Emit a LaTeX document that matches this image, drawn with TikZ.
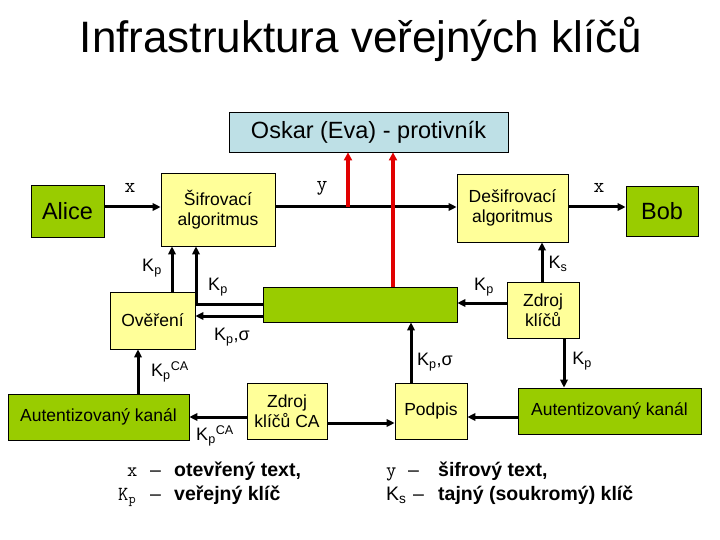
\documentclass[tikz,border=0pt]{standalone}
\usepackage{fontspec}
\setmainfont{Liberation Sans}
\usetikzlibrary{arrows.meta}
\definecolor{boxyellow}{RGB}{255,255,153}
\definecolor{boxgreen}{RGB}{153,204,0}
\definecolor{boxblue}{RGB}{190,224,230}
\definecolor{redline}{RGB}{225,0,0}
\begin{document}
\begin{tikzpicture}[x=1pt,y=-1pt,
  box/.style={draw=black, line width=0.8pt, inner sep=0pt, align=center, font=\fontsize{17.5}{20.5}\selectfont},
  ybox/.style={box, fill=boxyellow},
  gbox/.style={box, fill=boxgreen},
  bigtext/.style={font=\fontsize{23.5}{26}\selectfont},
  conn/.style={line width=3pt, -{Triangle[length=8pt,width=7.5pt]}},
  redc/.style={line width=3.6pt, draw=redline, -{Triangle[length=8pt,width=8pt]}, color=redline},
  lbl/.style={font=\fontsize{18}{20}\selectfont, inner sep=0pt},
  monolbl/.style={font=\ttfamily\fontsize{21}{22}\selectfont, inner sep=0pt},
  legbold/.style={font=\bfseries\fontsize{19.5}{22}\selectfont, inner sep=0pt, anchor=base west},
  legmono/.style={font=\ttfamily\fontsize{20}{22}\selectfont, inner sep=0pt, anchor=base west},
  legplain/.style={font=\fontsize{19.5}{22}\selectfont, inner sep=0pt, anchor=base west}
]
\fill[white] (0,0) rectangle (720,540);
\useasboundingbox (0,0) rectangle (720,540);

% title
\node[font=\fontsize{44}{48}\selectfont, anchor=base, inner sep=0pt] (title) at (361,53) {Infrastruktura veřejných klíčů};

% boxes
\node[box, fill=boxblue, bigtext, minimum width=279pt, minimum height=40pt] (oskar) at (368.5,132) {Oskar (Eva) - protivník};
\node[gbox, bigtext, minimum width=73pt, minimum height=52pt] (alice) at (67.5,211) {Alice};
\node[ybox, minimum width=114pt, minimum height=73pt] (sifr) at (218,209.5) {Šifrovací\\algoritmus};
\node[ybox, minimum width=111pt, minimum height=68pt] (desifr) at (512.5,208) {Dešifrovací\\algoritmus};
\node[gbox, bigtext, minimum width=72pt, minimum height=50pt] (bob) at (662,211) {Bob};
\node[ybox, minimum width=85pt, minimum height=57pt] (over) at (152.5,320.5) {Ověření};
\node[gbox, minimum width=194pt, minimum height=35pt] (mid) at (360,304.5) {};
\node[ybox, minimum width=72pt, minimum height=56pt] (zdroj) at (543,310) {Zdroj\\klíčů};
\node[gbox, minimum width=181pt, minimum height=46pt] (authL) at (98.5,417) {Autentizovaný kanál};
\node[ybox, minimum width=80pt, minimum height=56pt] (zdrojCA) at (287,411) {Zdroj\\klíčů CA};
\node[ybox, minimum width=72pt, minimum height=56pt] (podpis) at (431,411) {Podpis};
\node[gbox, minimum width=183pt, minimum height=46pt] (authR) at (609.5,411) {Autentizovaný kanál};

% black connectors
\draw[conn] (alice.east |- 0,207) -- (sifr.west |- 0,207);
\draw[conn] (sifr.east |- 0,207) -- (desifr.west |- 0,207);
\draw[conn] (desifr.east |- 0,207) -- (bob.west |- 0,207);
\draw[conn] (over.north -| 172,0) -- (sifr.south -| 172,0);
\draw[conn] (mid.west |- 0,304) -- (196,304) -- (sifr.south -| 196,0);
\draw[conn] (mid.west |- 0,316) -- (over.east |- 0,316);
\draw[conn] (zdroj.west |- 0,303) -- (mid.east |- 0,303);
\draw[conn] (zdroj.north -| 542,0) -- (desifr.south -| 542,0);
\draw[conn] (zdroj.south -| 564,0) -- (authR.north -| 564,0);
\draw[conn] (authR.west |- 0,417) -- (podpis.east |- 0,417);
\draw[conn] (podpis.north -| 411,0) -- (mid.south -| 411,0);
\draw[conn] (zdrojCA.east |- 0,423) -- (podpis.west |- 0,423);
\draw[conn] (zdrojCA.west |- 0,417) -- (authL.east |- 0,417);
\draw[conn] (authL.north -| 138,0) -- (over.south -| 138,0);

% red connectors
\coordinate (tap) at (348,207);
\draw[redc] (tap) -- (oskar.south -| tap);
\draw[redc] (mid.north -| 393,0) -- (oskar.south -| 393,0);

% labels
\node[monolbl] (lx1) at (130,188) {x};
\node[monolbl] (ly) at (322,188) {y};
\node[monolbl] (lx2) at (599,188) {x};
\node[lbl] (k1) at (152,268) {K\textsubscript{p}};
\node[lbl] (k2) at (218,287) {K\textsubscript{p}};
\node[lbl] (k3) at (232,337) {K\textsubscript{p},σ};
\node[lbl] (k4) at (170,372) {K\textsubscript{p}\textsuperscript{CA}};
\node[lbl] (k5) at (215,436) {K\textsubscript{p}\textsuperscript{CA}};
\node[lbl] (k6) at (484,287) {K\textsubscript{p}};
\node[lbl] (k7) at (558,264) {K\textsubscript{s}};
\node[lbl] (k8) at (435,362) {K\textsubscript{p},σ};
\node[lbl] (k9) at (582,361) {K\textsubscript{p}};

% legend
\node[legmono] (gx) at (127,476) {x};
\node[legplain] (gd1) at (150,476) {–};
\node[legbold] (gt1) at (174,476) {otevřený text,};
\node[legmono] (gk) at (118,500) {K\textsubscript{p}};
\node[legplain] (gd2) at (150,500) {–};
\node[legbold] (gt2) at (174,500) {veřejný klíč};
\node[legmono] (gy) at (386,476) {y};
\node[legplain] (gd3) at (408,476) {–};
\node[legbold] (gt3) at (438,476) {šifrový text,};
\node[legplain] (gks) at (386,500) {K\textsubscript{s}};
\node[legplain] (gd4) at (413,500) {–};
\node[legbold] (gt4) at (438,500) {tajný (soukromý) klíč};
\end{tikzpicture}
\end{document}
